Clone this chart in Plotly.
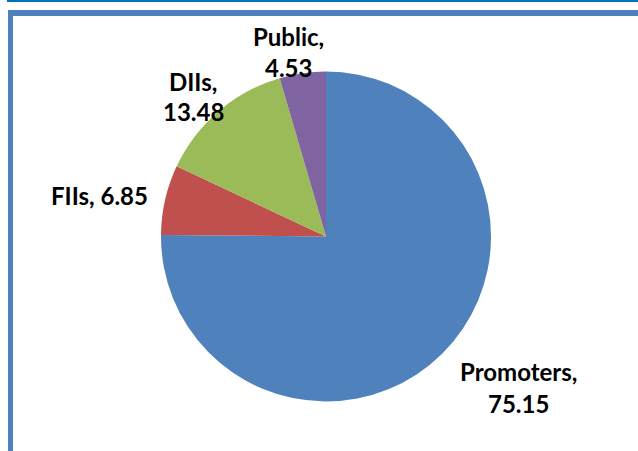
import plotly.graph_objects as go

labels = ["Promoters", "FIIs", "DIIs", "Public"]
values = [75.15, 6.85, 13.48, 4.53]
colors = ["#4F81BD", "#C0504D", "#9BBB59", "#8064A2"]
# whether the label wraps onto two lines
two_line = [True, False, True, True]
# label line centre positions in pixels (x, y from top): first line, second line
label_pos = [
    [(518, 371.5), (518, 403.5)],
    [(99, 195)],
    [(193, 81.5), (194, 111.5)],
    [(288, 36.5), (288, 67)],
]

W, H = 638, 451

def px(x):
    return x / W

def py(y):
    return 1 - y / H

fig = go.Figure()
fig.add_trace(go.Pie(
    labels=labels,
    values=values,
    marker=dict(colors=colors, line=dict(width=0)),
    sort=False,
    direction="clockwise",
    rotation=0,
    textinfo="none",
    hoverinfo="label+value",
    showlegend=False,
    domain=dict(x=[px(161), px(491)], y=[py(402), py(71)]),
))

font = dict(family="Lato, Carlito, Calibri, sans-serif", size=24, color="#000000")
for name, val, wrap, pos in zip(labels, values, two_line, label_pos):
    if wrap:
        lines = [f"{name},", f"{val:.2f}"]
    else:
        lines = [f"{name}, {val:.2f}"]
    for line, (x, y) in zip(lines, pos):
        fig.add_annotation(
            x=px(x), y=py(y), xref="paper", yref="paper",
            text="<b>" + line + "</b>", showarrow=False,
            font=font, align="center", xanchor="center", yanchor="middle",
        )

shapes = [
    # top thin dark line
    dict(type="rect", xref="paper", yref="paper", x0=px(7), x1=1, y0=py(2), y1=1,
         fillcolor="#0070C0", line=dict(width=0)),
    # frame top
    dict(type="rect", xref="paper", yref="paper", x0=px(8), x1=1, y0=py(16), y1=py(10),
         fillcolor="#4F81BD", line=dict(width=0)),
    # frame left
    dict(type="rect", xref="paper", yref="paper", x0=px(8), x1=px(13), y0=0, y1=py(10),
         fillcolor="#4F81BD", line=dict(width=0)),
]

fig.update_layout(
    width=W, height=H,
    margin=dict(l=0, r=0, t=0, b=0),
    paper_bgcolor="white",
    plot_bgcolor="white",
    shapes=shapes,
)

fig.write_html("out.html")
